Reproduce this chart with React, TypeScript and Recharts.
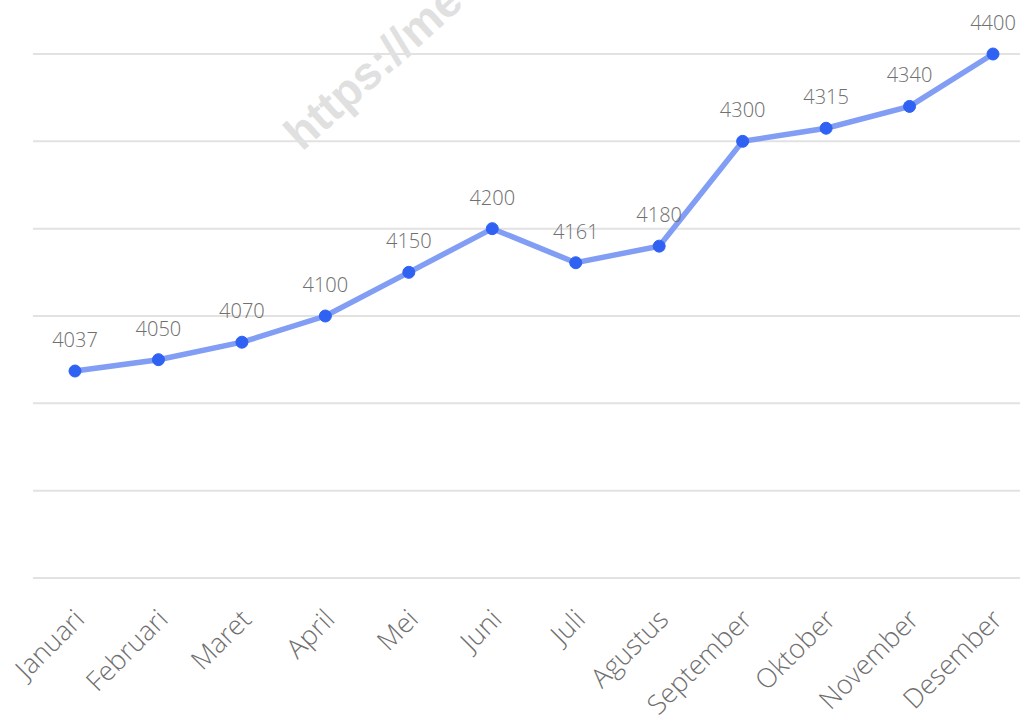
import React from "react";
import { LineChart, Line, XAxis, YAxis, CartesianGrid, LabelList } from "recharts";

const months = [
  "Januari", "Februari", "Maret", "April", "Mei", "Juni",
  "Juli", "Agustus", "September", "Oktober", "November", "Desember",
];
const values = [4037, 4050, 4070, 4100, 4150, 4200, 4161, 4180, 4300, 4315, 4340, 4400];
const yTicks = [3800, 3900, 4000, 4100, 4200, 4300, 4400];
const watermark = "https://me";

const data = months.map((m, i) => ({ month: m, value: values[i] }));

const FONT = "'Open Sans Light', 'Noto Sans Light', 'Open Sans', 'Noto Sans', sans-serif";

const MonthTick = (props: any) => {
  const { x, y, payload } = props;
  return (
    <g transform={`translate(${x + 11},${y + 43})`}>
      <text
        transform="rotate(-45)"
        textAnchor="end"
        fill="#707070"
        fontSize={27}
        fontWeight={300}
        fontFamily={FONT}
      >
        {payload.value}
      </text>
    </g>
  );
};

const ValueLabel = (props: any) => {
  const { x, y, value } = props;
  return (
    <text
      x={x}
      y={y - 24}
      textAnchor="middle"
      fill="#707070"
      fontSize={20}
      fontWeight={300}
      fontFamily={FONT}
    >
      {value}
    </text>
  );
};

export default function App() {
  return (
    <div
      style={{
        position: "absolute",
        left: 0,
        top: 0,
        width: 1020,
        height: 722,
        overflow: "hidden",
        background: "#ffffff",
      }}
    >
      <svg
        width={1020}
        height={722}
        style={{ position: "absolute", left: 0, top: 0 }}
      >
        <text
          x={302}
          y={152}
          transform="rotate(-42 302 152)"
          fontSize={46}
          fontWeight={700}
          fontFamily="'Liberation Sans', Arial, sans-serif"
          fill="#e0e0e0"
        >
          {watermark}
        </text>
      </svg>
      <div style={{ position: "absolute", left: 0, top: 0 }}>
        <LineChart
          width={1040}
          height={722}
          data={data}
          margin={{ top: 54, left: 33, right: 5, bottom: 0 }}
        >
          <CartesianGrid vertical={false} stroke="#e2e2e2" strokeWidth={2} />
          <XAxis
            dataKey="month"
            axisLine={false}
            tickLine={false}
            tickSize={0}
            tickMargin={0}
            height={144}
            interval={0}
            padding={{ left: 42, right: 42 }}
            tick={<MonthTick />}
          />
          <YAxis hide domain={[3800, 4400]} ticks={yTicks} />
          <Line
            type="linear"
            dataKey="value"
            stroke="#819df4"
            strokeWidth={5.5}
            dot={{ r: 6, fill: "#2f62f3", stroke: "#2f62f3", strokeWidth: 1 }}
            isAnimationActive={false}
          >
            <LabelList dataKey="value" content={<ValueLabel />} />
          </Line>
        </LineChart>
      </div>
    </div>
  );
}
